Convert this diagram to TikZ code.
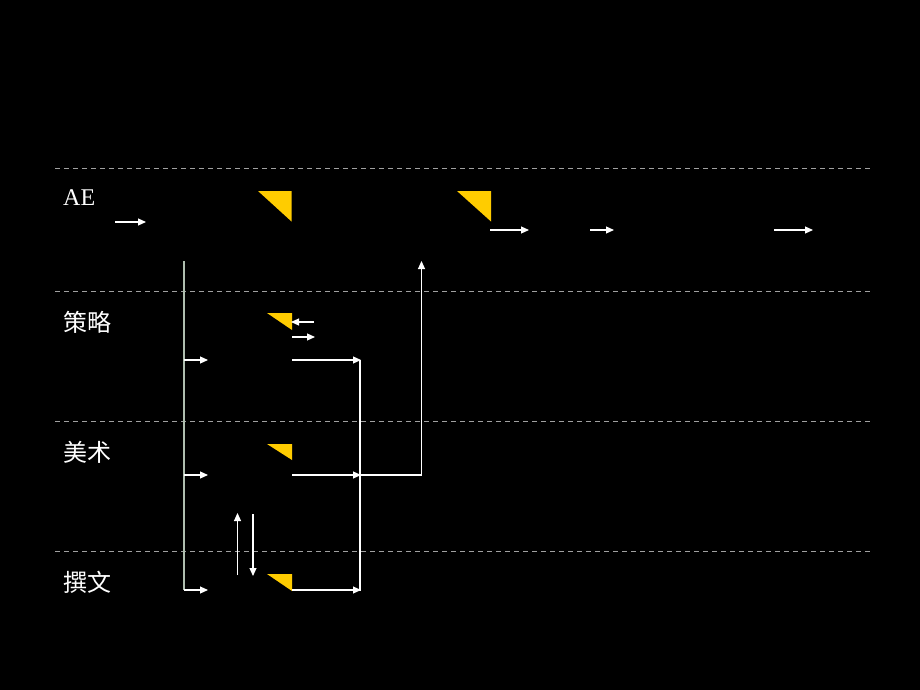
\documentclass[tikz,border=0pt]{standalone}
\usepackage{fontspec}
\setmainfont{Liberation Serif}
\newfontfamily\cjk{Noto Sans CJK SC}
\usetikzlibrary{arrows.meta}
\definecolor{tri}{RGB}{255,204,0}
\definecolor{sep}{RGB}{160,160,160}
\definecolor{spine}{RGB}{175,190,175}
\tikzset{
  lane/.style={draw=sep, line width=1pt, dash pattern=on 5pt off 4pt},
  conn/.style={draw=white, line width=1.1pt, -{Triangle[length=8pt,width=7pt]}},
  plain/.style={draw=white, line width=1.1pt},
  flag/.style={fill=tri, draw=none},
  lbl/.style={text=white, font=\fontsize{24}{28}\selectfont, inner sep=0pt, anchor=west}
}
\begin{document}
\begin{tikzpicture}[x=1pt,y=-1pt]
\useasboundingbox[fill=black] (0,0) rectangle (920,690);
% lane separators
\foreach \yy/\nm in {168/l1,291/l2,421/l3,551/l4}{
  \coordinate (\nm a) at (55,\yy);
  \coordinate (\nm b) at (872,\yy);
  \draw[lane] (\nm a) -- (\nm b);
}
% labels
\node[lbl] (ae) at (63,198) {AE};
\node[lbl] (cl) at (63,322) {\cjk 策略};
\node[lbl] (ms) at (63,452) {\cjk 美术};
\node[lbl] (zw) at (63,582) {\cjk 撰文};
% yellow flags
\draw[flag] (258,191) coordinate (t1) -- (291.5,191) -- (291.5,221.5) -- cycle;
\draw[flag] (457,191) coordinate (t2) -- (491,191) -- (491,221.5) -- cycle;
\draw[flag] (267,313) coordinate (t3) -- (292,313) -- (292,330) -- cycle;
\draw[flag] (267,444) coordinate (t4) -- (292,444) -- (292,460) -- cycle;
\draw[flag] (267,574) coordinate (t5) -- (292,574) -- (292,591) -- cycle;
% AE row arrows
\coordinate (a1s) at (115,222); \coordinate (a1e) at (146,222);
\draw[conn] (a1s) -- (a1e);
\coordinate (a2s) at (490,230); \coordinate (a2e) at (529,230);
\draw[conn] (a2s) -- (a2e);
\coordinate (a3s) at (590,230); \coordinate (a3e) at (614,230);
\draw[conn] (a3s) -- (a3e);
\coordinate (a4s) at (774,230); \coordinate (a4e) at (813,230);
\draw[conn] (a4s) -- (a4e);
% spine
\coordinate (sp0) at (184,261);
\coordinate (sp1) at (184,360);
\coordinate (sp2) at (184,475);
\coordinate (sp3) at (184,590);
\draw[draw=spine, line width=1.1pt] (sp0) -- (sp3);
\coordinate (b1) at (208,360); \coordinate (b2) at (208,475); \coordinate (b3) at (208,590);
\draw[conn] (sp1) -- (b1);
\draw[conn] (sp2) -- (b2);
\draw[conn] (sp3) -- (b3);
% strategy row small arrows
\coordinate (c1s) at (314,322); \coordinate (c1e) at (291,322);
\draw[conn] (c1s) -- (c1e);
\coordinate (c2s) at (292,337); \coordinate (c2e) at (315,337);
\draw[conn] (c2s) -- (c2e);
% collector
\coordinate (m1) at (292,360); \coordinate (j1) at (361,360);
\coordinate (m2) at (292,475); \coordinate (j2) at (361,475);
\coordinate (m3) at (292,590); \coordinate (j3) at (361,590);
\draw[conn] (m1) -- (j1);
\draw[conn] (m2) -- (j2);
\draw[conn] (m3) -- (j3);
\draw[plain] (360,360) -- (360,590.5);
\coordinate (up0) at (421.5,475);
\coordinate (up1) at (421.5,261);
\draw[plain] (j2) -- (up0);
\draw[conn] (up0) -- (up1);
% vertical pair
\coordinate (v1s) at (237.5,575); \coordinate (v1e) at (237.5,513);
\draw[conn] (v1s) -- (v1e);
\coordinate (v2s) at (253,514); \coordinate (v2e) at (253,576);
\draw[conn] (v2s) -- (v2e);
\end{tikzpicture}
\end{document}
